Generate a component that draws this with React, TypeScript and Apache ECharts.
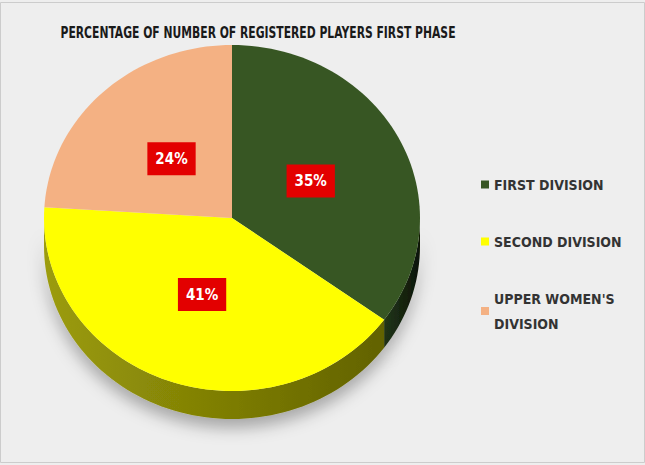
import React, { useEffect, useRef } from 'react';
import * as echarts from 'echarts';

const titleText = 'PERCENTAGE OF NUMBER OF REGISTERED PLAYERS FIRST PHASE';
const categories = ['FIRST DIVISION', 'SECOND DIVISION', "UPPER WOMEN'S DIVISION"];
const values = [35, 41, 24];
const topColors = ['#375623', '#ffff00', '#f4b183'];
const sideColors = [
  ['#22361a', '#0c1406'],
  ['#9c9c0a', '#626200'],
  ['#b07a55', '#8a5a3a'],
];

const CX = 232;
const CY = 218;
const RX = 188;
const RY = 173;
const DEPTH = 28;
const LABEL_F = 0.47;
const FONT = '"Liberation Sans Narrow", "DejaVu Sans Condensed", "Open Sans", sans-serif';

const total = values.reduce((a, b) => a + b, 0);

function pt(a: number, dy: number): number[] {
  return [CX + RX * Math.sin(a), CY - RY * Math.cos(a) + dy];
}

function arc(s: number, e: number, dy: number): number[][] {
  const out: number[][] = [];
  const n = Math.max(2, Math.ceil(((e - s) / (Math.PI * 2)) * 180));
  for (let k = 0; k <= n; k++) out.push(pt(s + ((e - s) * k) / n, dy));
  return out;
}

function makeRender(i: number) {
  return (params: any, api: any) => {
    const v = api.value(0) as number;
    const before = values.slice(0, i).reduce((a, b) => a + b, 0);
    const a0 = (before / total) * Math.PI * 2;
    const a1 = ((before + v) / total) * Math.PI * 2;
    const children: any[] = [];
    const s = Math.max(a0, Math.PI / 2);
    const e = Math.min(a1, (Math.PI * 3) / 2);
    if (s < e) {
      const pts = arc(s, e, 0).concat(arc(s, e, DEPTH).reverse());
      children.push({
        type: 'polygon',
        shape: { points: pts },
        style: {
          fill: new echarts.graphic.LinearGradient(0, 0, 1, 0, [
            { offset: 0, color: sideColors[i][0] },
            { offset: 1, color: sideColors[i][1] },
          ]),
          shadowBlur: 16,
          shadowOffsetY: 9,
          shadowColor: 'rgba(0,0,0,0.3)',
        },
      });
    }
    const top = [[CX, CY]].concat(arc(a0, a1, 0));
    children.push({
      type: 'polygon',
      shape: { points: top },
      style: { fill: topColors[i] },
    });
    const mid = (a0 + a1) / 2;
    children.push({
      type: 'text',
      x: CX + RX * LABEL_F * Math.sin(mid),
      y: CY - RY * LABEL_F * Math.cos(mid),
      style: {
        text: Math.round((v / total) * 100) + '%',
        fill: '#ffffff',
        font: `bold 15px ${FONT}`,
        align: 'center',
        verticalAlign: 'middle',
        backgroundColor: '#e30000',
        padding: [9, 8],
        boxShadowBlur: 4,
        boxShadowColor: 'rgba(0,0,0,0.35)',
        boxShadowOffsetX: 2,
        boxShadowOffsetY: 2,
      },
      z2: 10,
    });
    return { type: 'group', children };
  };
}

export default function App() {
  const ref = useRef<HTMLDivElement>(null);
  useEffect(() => {
    if (!ref.current) return;
    const chart = echarts.init(ref.current, undefined, { renderer: 'svg' });
    chart.setOption({
      animation: false,
      backgroundColor: '#eeeeee',
      legend: {
        orient: 'vertical',
        left: 476,
        top: 167,
        itemGap: 32,
        itemWidth: 8,
        itemHeight: 8,
        icon: 'rect',
        data: categories,
        formatter: (name: string) => name.replace("WOMEN'S ", "WOMEN'S\n"),
        textStyle: { fontFamily: FONT, fontSize: 14, fontWeight: 'bold', color: '#333333', lineHeight: 25 },
      },
      graphic: [
        {
          type: 'rect',
          shape: { x: 0.5, y: 2.5, width: 644, height: 460 },
          style: { fill: 'none', stroke: '#cccccc', lineWidth: 1 },
          silent: true,
        },
        {
          type: 'text',
          x: 258,
          y: 32,
          scaleX: 0.8,
          style: {
            text: titleText,
            font: `bold 15px ${FONT}`,
            fill: '#1a1a1a',
            align: 'center',
            verticalAlign: 'middle',
          },
        },
      ],
      series: categories.map((name, i) => ({
        type: 'custom',
        name,
        coordinateSystem: 'none',
        itemStyle: { color: topColors[i] },
        data: [[values[i]]],
        renderItem: makeRender(i),
      })),
    });
    return () => chart.dispose();
  }, []);
  return (
    <div
      ref={ref}
      style={{ position: 'fixed', left: 0, top: 0, width: 645, height: 465, background: '#eeeeee' }}
    />
  );
}
